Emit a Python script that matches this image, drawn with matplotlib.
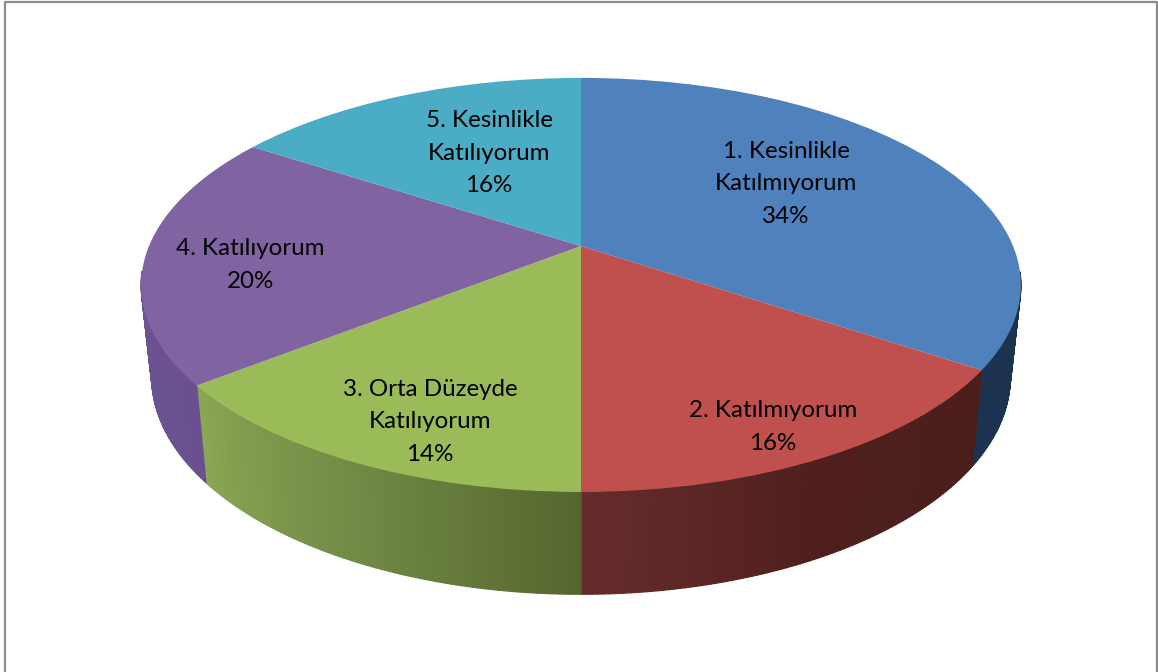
import numpy as np
import matplotlib
matplotlib.use('Agg')
import matplotlib.pyplot as plt
from matplotlib.collections import PolyCollection
from matplotlib.colors import to_rgb
from matplotlib.transforms import Transform

labels = ["1. Kesinlikle\nKatılmıyorum", "2. Katılmıyorum", "3. Orta Düzeyde\nKatılıyorum",
          "4. Katılıyorum", "5. Kesinlikle\nKatılıyorum"]
values = [34.4, 15.6, 14.4, 19.8, 15.8]
top_colors = ['#4f81bd', '#c0504d', '#9bbb59', '#8064a2', '#4bacc6']
# wall colour at start, middle and end of each slice, going clockwise
wall_colors = [('#1c3350', '#1c3350', '#1c3350'), ('#4b1e1c', '#4e1f1d', '#662c2b'),
               ('#55672f', '#728a45', '#8ba654'), ('#6a5090', '#6c5490', '#725d8c'),
               ('#2b6172', '#2b6172', '#2b6172')]
label_x = [786, 773, 430, 250, 489]
label_y = [184, 427, 422, 265, 153]


class Tilt(Transform):
    # unit circle to picture pixels, with perspective
    input_dims = 2
    output_dims = 2

    def __init__(self, y0, xscale, yscale):
        super().__init__()
        self.y0, self.xscale, self.yscale = y0, xscale, yscale

    def transform_non_affine(self, xy):
        xy = np.asarray(xy, dtype=float)
        d = 1 + 0.188 * xy[:, 1]
        return np.column_stack((581 + self.xscale * 432 * xy[:, 0] / d,
                                self.y0 - self.yscale * 199.7 * xy[:, 1] / d))


top = Tilt(246, 1, 1)
bottom = Tilt(336, 0.976, 1.05)

fig = plt.figure(figsize=(11.58, 6.72), dpi=100)
ax = fig.add_axes([0, 0, 1, 1])

# side walls, only the part that can be seen
edges = np.r_[0, np.cumsum(values)] / np.sum(values) * 2 * np.pi
quads, colors = [], []
for i in range(len(values)):
    a = np.linspace(edges[i], edges[i + 1], max(2, int(values[i] * 6)))
    stops = np.array([to_rgb(c) for c in wall_colors[i]])
    for j in range(len(a) - 1):
        if np.cos(a[j:j + 2]).max() > -0.12:
            continue
        ring = np.column_stack((np.sin(a[j:j + 2]), np.cos(a[j:j + 2])))
        quads.append(np.vstack((top.transform(ring), bottom.transform(ring)[::-1])))
        t = j / (len(a) - 2)
        colors.append([np.interp(t, [0, 0.5, 1], stops[:, k]) for k in range(3)])
walls = PolyCollection(quads, facecolors=colors, edgecolors=colors, linewidths=0.9)
ax.add_collection(walls)

# top of the pie
wedges, _ = ax.pie(values, colors=top_colors, startangle=90, counterclock=False)
for w in wedges:
    w.set_transform(top + ax.transData)
    w.set_zorder(3)

ax.set_aspect('auto')
ax.set_xlim(0, 1158)
ax.set_ylim(672, 0)
ax.axis('off')

for name, v, x, y in zip(labels, values, label_x, label_y):
    ax.text(x, y, name + "\n" + f"{v:.0f}%", ha='center', va='center', fontsize=17.4,
            family='Lato', color='black', linespacing=1.65, zorder=4)

# chart frame, open at the bottom
ax.plot([5, 5, 1157, 1157], [672, 2, 2, 672], color='#8c8c8c', lw=1.6, zorder=5, clip_on=False)

fig.savefig('out.png', dpi=100)
